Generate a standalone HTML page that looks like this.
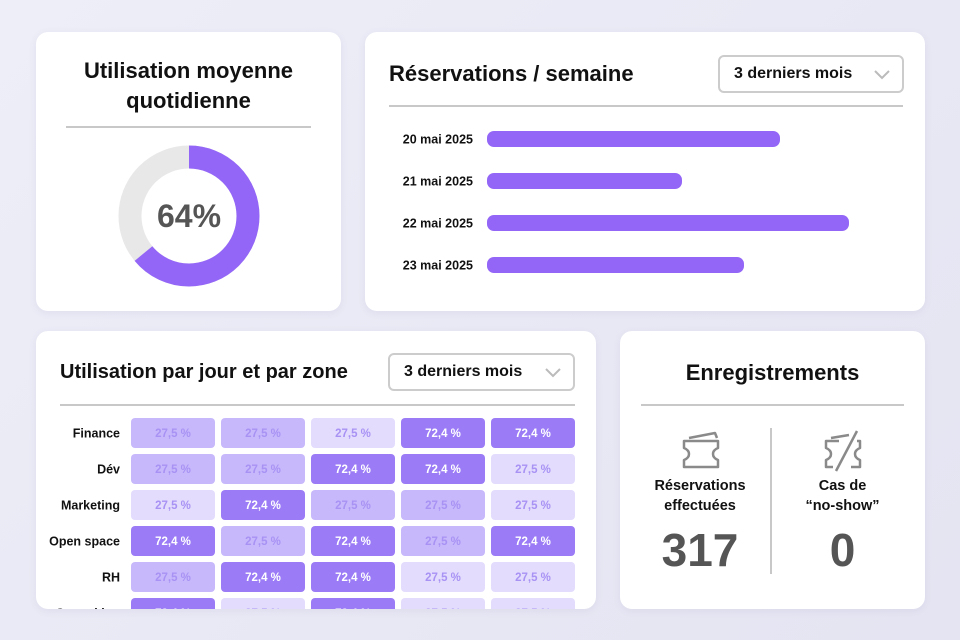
<!DOCTYPE html>
<html><head><meta charset="utf-8">
<style>
*{box-sizing:border-box;margin:0;padding:0}
body{width:960px;height:640px;overflow:hidden;background:linear-gradient(135deg,#eeeef8,#e4e4f2);font-family:"Liberation Sans",sans-serif;position:relative;color:#111}
.card{position:absolute;background:#fff;border-radius:12px;box-shadow:0 2px 8px rgba(80,80,140,.08);overflow:hidden}
.hr{position:absolute;height:2px;background:#c8c8c8}
.title{position:absolute;font-weight:bold;font-size:22px;color:#111}
.dd{position:absolute;border:2px solid #ccc;border-radius:6px;font-size:16px;font-weight:bold;padding:0 0 0 14px;display:flex;align-items:center}
.dd svg{position:absolute;right:12px;top:13px}
</style></head><body>

<div class="card" style="left:36px;top:32px;width:305px;height:279px">
  <div class="title" style="left:0;width:305px;top:24px;text-align:center;line-height:30px">Utilisation moyenne<br>quotidienne</div>
  <div class="hr" style="left:30px;top:94px;width:245px"></div>
  <svg id="donut" width="305" height="279" style="position:absolute;left:0;top:0"></svg>
</div>

<div class="card" style="left:365px;top:32px;width:560px;height:279px">
  <div class="title" style="left:24px;top:29px">Réservations / semaine</div>
  <div class="dd" style="left:353px;top:23px;width:186px;height:38px">3 derniers mois<svg width="16" height="10"><path d="M1 1 L8 8 L15 1" stroke="#bbb" stroke-width="2" fill="none"/></svg></div>
  <div class="hr" style="left:24px;top:73px;width:514px"></div>
  <svg id="bars" width="560" height="279" style="position:absolute;left:0;top:0"></svg>
</div>

<div class="card" style="left:36px;top:331px;width:560px;height:278px">
  <div class="title" style="left:24px;top:30px;font-size:20px">Utilisation par jour et par zone</div>
  <div class="dd" style="left:352px;top:22px;width:187px;height:38px">3 derniers mois<svg width="16" height="10"><path d="M1 1 L8 8 L15 1" stroke="#bbb" stroke-width="2" fill="none"/></svg></div>
  <div class="hr" style="left:24px;top:73px;width:515px"></div>
  <svg id="heat" width="560" height="278" style="position:absolute;left:0;top:0"></svg>
</div>

<div class="card" style="left:620px;top:331px;width:305px;height:278px">
  <div class="title" style="left:0;width:305px;text-align:center;top:29px">Enregistrements</div>
  <div class="hr" style="left:21px;top:73px;width:263px"></div>
  <div style="position:absolute;left:150px;top:97px;width:2px;height:146px;background:#c8c8c8"></div>
  <svg width="44" height="42" style="position:absolute;left:59px;top:98px"><g fill="none" stroke="#8a8a8a" stroke-width="2.5" stroke-linejoin="round"><path d="M5 12 H39 V19 Q34 21 34 25 Q34 29 39 31 V38 H5 V31 Q10 29 10 25 Q10 21 5 19 Z"/><path d="M10 9 L36 4 L38 9"/></g></svg>
  <svg width="44" height="44" style="position:absolute;left:201px;top:97px"><g fill="none" stroke="#8a8a8a" stroke-width="2.5" stroke-linejoin="round"><path d="M18 13 H5 V20 Q10 22 10 26 Q10 30 5 32 V39 H12"/><path d="M30 39 H39 V32 Q34 30 34 26 Q34 22 39 20 V13 H36"/><path d="M10 10 L28 7"/><path d="M15 43 L36 3"/></g></svg>
  <div style="position:absolute;left:0;width:160px;top:145px;text-align:center;font-weight:bold;font-size:14.5px;line-height:20px">Réservations<br>effectuées</div>
  <div style="position:absolute;left:150px;width:145px;top:145px;text-align:center;font-weight:bold;font-size:14.5px;line-height:20px">Cas de<br>“no-show”</div>
  <div style="position:absolute;left:0;width:160px;top:192px;text-align:center;font-weight:bold;font-size:46px;color:#555">317</div>
  <div style="position:absolute;left:150px;width:145px;top:192px;text-align:center;font-weight:bold;font-size:46px;color:#555">0</div>
</div>

<script>
const NS="http://www.w3.org/2000/svg";
function mk(p,t,a){const e=document.createElementNS(NS,t);for(const k in a)e.setAttribute(k,a[k]);p.appendChild(e);return e;}

// Donut
const usagePct=[64];
(function(){
  const s=document.getElementById('donut');const cx=153,cy=184,r=59,w=23;
  const bg=mk(s,'circle',{cx:cx,cy:cy,r:r,fill:'none',stroke:'#e8e8e8','stroke-width':w});
  
  
  const c=2*Math.PI*r;const v=usagePct[0]/100;
  const arc=mk(s,'circle',{cx:cx,cy:cy,r:r,fill:'none',stroke:'#9366f7','stroke-width':w,'stroke-dasharray':(c*v)+' '+c,transform:'rotate(-90 '+cx+' '+cy+')'});
  
  
  const t=mk(s,'text',{x:cx,y:cy+11,'text-anchor':'middle','font-size':32,'font-weight':'bold',fill:'#555','font-family':'Liberation Sans'});
  t.textContent=usagePct[0]+'%';
  
  
})();

// Bars
const barDates=['20 mai 2025','21 mai 2025','22 mai 2025','23 mai 2025'];
const barValues=[293,195,362,257];
const barMax=400;
(function(){
  const s=document.getElementById('bars');const x0=122,W=400,y0=99,step=42,h=16;
  const xs=v=>v/barMax*W;
  barDates.forEach((d,i)=>{
    const y=y0+i*step;
    const t=mk(s,'text',{x:108,y:y+h/2+4.5,'text-anchor':'end','font-size':12.5,'font-weight':'bold',fill:'#111','font-family':'Liberation Sans'});
    t.textContent=d;
    
    
    const b=mk(s,'rect',{x:x0,y:y,width:xs(barValues[i]),height:h,rx:7,fill:'#9366f7'});
    
    
  });
})();

// Heatmap
const zones=['Finance','Dév','Marketing','Open space','RH','Coworking'];
const heatValues=[
 [27.5,27.5,27.5,72.4,72.4],
 [27.5,27.5,72.4,72.4,27.5],
 [27.5,72.4,27.5,27.5,27.5],
 [72.4,27.5,72.4,27.5,72.4],
 [27.5,72.4,72.4,27.5,27.5],
 [72.4,27.5,72.4,27.5,27.5]];
const heatShade=[
 [1,1,0,2,2],[1,1,2,2,0],[0,2,1,1,0],[2,1,2,1,2],[1,2,2,0,0],[2,0,2,0,0]];
const shadeColors=['#e3dcfd','#c7b8fb','#9b7cf6'];
(function(){
  const s=document.getElementById('heat');const x0=95,y0=87,cw=84,ch=30,sx=90,sy=36;
  zones.forEach((z,r)=>{
    const y=y0+r*sy;
    const t=mk(s,'text',{x:84,y:y+ch/2+4.5,'text-anchor':'end','font-size':12.5,'font-weight':'bold',fill:'#111','font-family':'Liberation Sans'});
    t.textContent=z;
    
    
    heatValues[r].forEach((v,c)=>{
      const x=x0+c*sx;const sh=heatShade[r][c];
      const rc=mk(s,'rect',{x:x,y:y,width:cw,height:ch,rx:4,fill:shadeColors[sh]});
      
      
      const tt=mk(s,'text',{x:x+cw/2,y:y+ch/2+4,'text-anchor':'middle','font-size':11.5,'font-weight':'bold',fill:sh==2?'#fff':'#a892f4','font-family':'Liberation Sans'});
      tt.textContent=v.toFixed(1).replace('.',',')+' %';
      
      
    });
  });
})();
</script>
</body></html>
